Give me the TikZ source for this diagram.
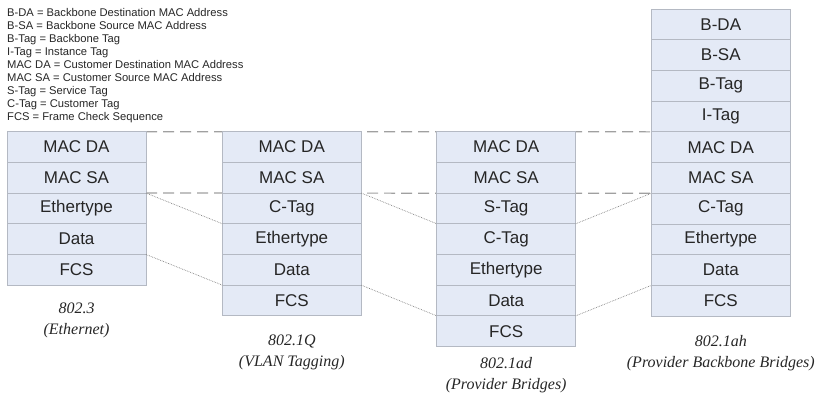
\documentclass[tikz,border=0pt]{standalone}
\usepackage{fontspec}
\setmainfont{Liberation Serif}
\setsansfont{Liberation Sans}
\usetikzlibrary{positioning,backgrounds}

\definecolor{cellfill}{RGB}{228,234,246}
\definecolor{celledge}{RGB}{180,185,195}
\definecolor{linkgray}{RGB}{160,160,160}
\definecolor{textgray}{RGB}{38,38,38}

\tikzset{
  field/.style={draw=celledge, fill=cellfill, line width=.8pt, minimum width=139pt,
    minimum height=30.7pt, inner sep=0pt, outer sep=0pt, text=textgray,
    font=\sffamily\fontsize{17}{19}\selectfont},
  caption/.style={anchor=north, inner sep=0pt, align=center, text=textgray,
    font=\itshape\fontsize{16}{21}\selectfont},
  same/.style={dash pattern=on 11pt off 6pt, line width=1.2pt, draw=linkgray},
  moved/.style={densely dotted, line width=.7pt, draw=black!50},
}

\begin{document}
\begin{tikzpicture}[x=1pt, y=-1pt]
    \useasboundingbox (0, 0) rectangle (825, 399);

    \node[anchor=north west, inner sep=0pt, align=left, text=textgray,
      font=\sffamily\fontsize{11.2}{13}\selectfont] (legend) at (7, 8.2)
      {B-DA = Backbone Destination MAC Address\\
       B-SA = Backbone Source MAC Address\\
       B-Tag = Backbone Tag\\
       I-Tag = Instance Tag\\
       MAC DA = Customer Destination MAC Address\\
       MAC SA = Customer Source MAC Address\\
       S-Tag = Service Tag\\
       C-Tag = Customer Tag\\
       FCS = Frame Check Sequence};

    \node[field] (e1) at (76.5, 147) {MAC DA};
    \node[field, below=0pt of e1] (e2) {MAC SA};
    \node[field, below=0pt of e2] (e3) {Ethertype};
    \node[field, below=0pt of e3] (e4) {Data};
    \node[field, below=0pt of e4] (e5) {FCS};
    \node[caption, below=17.9pt of e5] (ethcap) {802.3\\(Ethernet)};

    \node[field] (q1) at (291.8, 147) {MAC DA};
    \node[field, below=0pt of q1] (q2) {MAC SA};
    \node[field, below=0pt of q2] (q3) {C-Tag};
    \node[field, below=0pt of q3] (q4) {Ethertype};
    \node[field, below=0pt of q4] (q5) {Data};
    \node[field, below=0pt of q5] (q6) {FCS};
    \node[caption, below=19.2pt of q6] (qcap) {802.1Q\\(VLAN Tagging)};

    \node[field] (ad1) at (506.2, 147) {MAC DA};
    \node[field, below=0pt of ad1] (ad2) {MAC SA};
    \node[field, below=0pt of ad2] (ad3) {S-Tag};
    \node[field, below=0pt of ad3] (ad4) {C-Tag};
    \node[field, below=0pt of ad4] (ad5) {Ethertype};
    \node[field, below=0pt of ad5] (ad6) {Data};
    \node[field, below=0pt of ad6] (ad7) {FCS};
    \node[caption, below=10.6pt of ad7] (adcap) {802.1ad\\(Provider Bridges)};

    \node[field] (ah1) at (720.8, 24.4) {B-DA};
    \node[field, below=0pt of ah1] (ah2) {B-SA};
    \node[field, below=0pt of ah2] (ah3) {B-Tag};
    \node[field, below=0pt of ah3] (ah4) {I-Tag};
    \node[field, below=0pt of ah4] (ah5) {MAC DA};
    \node[field, below=0pt of ah5] (ah6) {MAC SA};
    \node[field, below=0pt of ah6] (ah7) {C-Tag};
    \node[field, below=0pt of ah7] (ah8) {Ethertype};
    \node[field, below=0pt of ah8] (ah9) {Data};
    \node[field, below=0pt of ah9] (ah10) {FCS};
    \node[caption, below=19.2pt of ah10] (ahcap) {802.1ah\\(Provider Backbone Bridges)};

    \begin{scope}[on background layer]
      \draw[same] (e1.north east) -- (ah5.north west);
      \draw[same] (e3.north east) -- (ah7.north west);
    \end{scope}

    \draw[moved] (e3.north east) -- (q4.north west);
    \draw[moved] (e5.north east) -- (q6.north west);
    \draw[moved] (q3.north east) -- (ad4.north west);
    \draw[moved] (q6.north east) -- (ad7.north west);
    \draw[moved] (ad4.north east) -- (ah7.north west);
    \draw[moved] (ad7.north east) -- (ah10.north west);
\end{tikzpicture}
\end{document}
